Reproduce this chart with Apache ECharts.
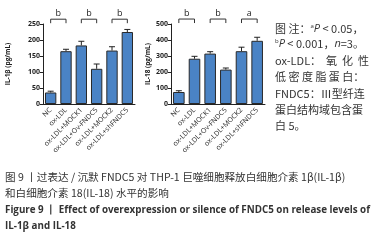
<!DOCTYPE html>
<html>
<head>
<meta charset="utf-8">
<script src="https://cdn.jsdelivr.net/npm/echarts@6/dist/echarts.min.js"></script>
<style>
  html, body { margin: 0; padding: 0; background: #fff; }
  #main { width: 388px; height: 241px; }
</style>
</head>
<body>
<div id="main"></div>
<script>
// 分组
const groups = ['NC', 'ox-LDL', 'ox-LDL+MOCK1', 'ox-LDL+Ov-FNDC5', 'ox-LDL+MOCK2', 'ox-LDL+shFNDC5'];

// IL-1β (pg/mL)
const il1bMean = [36, 165, 183, 110, 167, 225];
const il1bErr = [4, 6, 13, 15, 12, 8];

// IL-18 (pg/mL)
const il18Mean = [75, 283, 315, 215, 330, 395];
const il18Err = [8, 15, 12, 10, 25, 22];

// 显著性标记: [起, 止, 高度, 标记]
const il1bSig = [[0, 1, 265, 'b'], [2, 3, 265, 'b'], [4, 5, 265, 'b']];
const il18Sig = [[0, 1, 531, 'b'], [2, 3, 531, 'b'], [4, 5, 531, 'a']];

const BAR_COLOR = '#4a83c5';
const FONT = 'Open Sans';

function errorRender(params, api) {
  const x = api.value(0);
  const y = api.value(1);
  const e = api.value(2);
  const top = api.coord([x, y + e]);
  const mid = api.coord([x, y]);
  const w = 3;
  const style = { stroke: '#222', lineWidth: 1 };
  return {
    type: 'group',
    children: [
      { type: 'line', shape: { x1: top[0], y1: top[1], x2: mid[0], y2: mid[1] }, style },
      { type: 'line', shape: { x1: top[0] - w, y1: top[1], x2: top[0] + w, y2: top[1] }, style }
    ]
  };
}

function sigRender(params, api) {
  const a = api.coord([api.value(0), api.value(2)]);
  const b = api.coord([api.value(1), api.value(2)]);
  const label = api.value(3);
  const style = { stroke: '#333', lineWidth: 1, fill: null };
  return {
    type: 'group',
    children: [
      { type: 'polyline', shape: { points: [[a[0], a[1] + 4], [a[0], a[1]], [b[0], b[1]], [b[0], b[1] + 4]] }, style },
      { type: 'text', style: { text: label, x: (a[0] + b[0]) / 2, y: a[1] - 6, align: 'center', verticalAlign: 'middle',
        fontSize: 9, fontFamily: FONT, fill: '#222' } }
    ]
  };
}

function xAxisCfg(idx) {
  return {
    type: 'category', gridIndex: idx, data: groups,
    axisLine: { lineStyle: { color: '#222', width: 1 } },
    axisTick: { alignWithLabel: true, length: 3, lineStyle: { color: '#222' } },
    axisLabel: { rotate: 45, fontSize: 7, color: '#222', fontFamily: FONT, margin: 5, interval: 0 }
  };
}

function yAxisCfg(idx, name, max, interval, gap) {
  return {
    type: 'value', gridIndex: idx, min: 0, max: max, interval: interval,
    name: name, nameLocation: 'middle', nameGap: gap, nameRotate: 90,
    nameTextStyle: { fontSize: 6.5, color: '#222', fontFamily: FONT, fontWeight: 'bold' },
    splitLine: { show: false },
    axisLine: { show: true, lineStyle: { color: '#222', width: 1 } },
    axisTick: { show: true, length: 3, lineStyle: { color: '#222' } },
    axisLabel: { fontSize: 7, color: '#222', fontFamily: FONT, fontWeight: 'bold', margin: 3 }
  };
}

function barSeries(idx, vals) {
  return {
    type: 'bar', xAxisIndex: idx, yAxisIndex: idx, data: vals,
    barCategoryGap: '26%',
    itemStyle: { color: BAR_COLOR, borderColor: '#2a2a2a', borderWidth: 1 }
  };
}

function errSeries(idx, vals, errs) {
  return {
    type: 'custom', xAxisIndex: idx, yAxisIndex: idx, renderItem: errorRender, z: 5,
    data: vals.map((v, i) => [i, v, errs[i]])
  };
}

function sigSeries(idx, sig) {
  return {
    type: 'custom', xAxisIndex: idx, yAxisIndex: idx, renderItem: sigRender, clip: false,
    encode: { x: 0, y: 2 }, data: sig
  };
}

const note = [
  '{t|图 注：}{s|a}{i|P}{t| < 0.05，}',
  '{s|b}{i|P}{t| < 0.001，}{i|n}{t|=3。}',
  '{t|ox-LDL：  氧  化  性}',
  '{t|低 密 度 脂 蛋 白：}',
  '{t|FNDC5：Ⅲ型纤连}',
  '{t|蛋白结构域包含蛋}',
  '{t|白 5。}'
];
const noteRich = {
  t: { fontSize: 11, fontFamily: 'Noto Sans CJK SC', fill: '#333' },
  i: { fontSize: 11, fontFamily: FONT, fontStyle: 'italic', fill: '#333' },
  s: { fontSize: 6, fontFamily: FONT, fill: '#333', verticalAlign: 'top', padding: [0, 0, 6, 0] }
};
const noteY = [31, 46, 63, 79, 96, 112, 128];

const caption = [
  { text: '图 9 丨过表达 / 沉默 FNDC5 对 THP-1 巨噬细胞释放白细胞介素 1β(IL-1β)', y: 179, bold: false },
  { text: '和白细胞介素 18(IL-18) 水平的影响', y: 195, bold: false },
  { text: 'Figure 9 丨 Effect of overexpression or silence of FNDC5 on release levels of', y: 212, bold: true },
  { text: 'IL-1β and IL-18', y: 228, bold: true }
];

const graphics = [];
note.forEach((line, i) => {
  graphics.push({ type: 'text', left: 275, top: noteY[i] - 8, style: { text: line, rich: noteRich } });
});
caption.forEach(c => {
  graphics.push({ type: 'text', left: 5, top: c.y - 7, style: {
    text: c.text, fontSize: c.bold ? 9.8 : 10.6, fontWeight: c.bold ? 'bold' : 'normal',
    fontFamily: c.bold ? FONT : 'Noto Sans CJK SC', fill: '#333' } });
});

const option = {
  animation: false,
  grid: [
    { left: 43, right: 253, top: 24, bottom: 137 },
    { left: 171, right: 123, top: 24, bottom: 137 }
  ],
  xAxis: [xAxisCfg(0), xAxisCfg(1)],
  yAxis: [yAxisCfg(0, 'IL-1β (pg/mL)', 250, 50, 31), yAxisCfg(1, 'IL-18 (pg/mL)', 500, 100, 17)],
  series: [
    barSeries(0, il1bMean), errSeries(0, il1bMean, il1bErr), sigSeries(0, il1bSig),
    barSeries(1, il18Mean), errSeries(1, il18Mean, il18Err), sigSeries(1, il18Sig)
  ],
  graphic: graphics
};

const chartDom = document.getElementById('main');
const myChart = echarts.init(chartDom);
myChart.setOption(option);
</script>
</body>
</html>
